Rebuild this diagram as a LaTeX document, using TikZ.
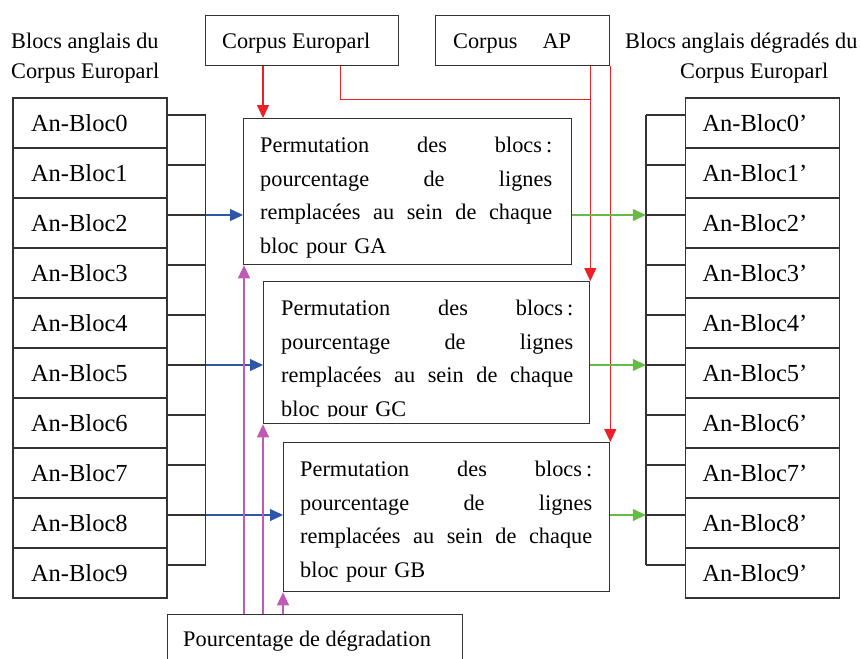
\documentclass[tikz,border=0pt]{standalone}
\usepackage{fontspec}
\setmainfont{Liberation Serif}
\usetikzlibrary{arrows.meta,calc}

\definecolor{linegray}{HTML}{333333}
\definecolor{flowred}{HTML}{EE2026}
\definecolor{flowblue}{HTML}{2E56A6}
\definecolor{flowgreen}{HTML}{66BB44}
\definecolor{flowmag}{HTML}{C05AB4}

\tikzset{
  txt/.style={font=\fontsize{22.3}{33.5}\selectfont},
  blk/.style={draw=linegray, line width=1.3pt, minimum width=154pt, minimum height=50pt,
    inner ysep=0pt, inner xsep=0pt, text width=154pt, align=left,
    font=\fontsize{24.5}{28}\selectfont},
  pbox/.style={draw=linegray, line width=1.3pt, inner sep=0pt, anchor=north west},
  ptext/.style={txt, inner sep=0pt, anchor=north west, text width=292pt, align=left},
  wire/.style={draw=linegray, line width=1.3pt},
  tip/.style={-{Triangle[length=13pt,width=12pt]}},
  bluearr/.style={tip, draw=flowblue, fill=flowblue, line width=1.2pt},
  greenarr/.style={tip, draw=flowgreen, fill=flowgreen, line width=1.2pt},
  magarr/.style={tip, draw=flowmag, fill=flowmag, line width=1.3pt},
  redarr/.style={tip, draw=flowred, fill=flowred, line width=1.3pt},
  redline/.style={draw=flowred, line width=1pt},
}

% a justified line of the box text: words spread over the full width
\newcommand{\jline}[1]{\makebox[292pt][l]{#1}}
\newcommand{\wgap}{\hspace{0pt plus 1fill}}

\begin{document}
\begin{tikzpicture}[x=1pt,y=-1pt]
\useasboundingbox (0,0) rectangle (860,659);
\clip (0,0) rectangle (860,659);

% column titles
\node[txt, anchor=west, inner sep=0pt] (tl1) at (11,43) {Blocs anglais du};
\node[txt, anchor=west, inner sep=0pt] (tl2) at (11,73) {Corpus Europarl};
\node[txt, anchor=west, inner sep=0pt] (tr1) at (625,43) {Blocs anglais dégradés du};
\node[txt, anchor=west, inner sep=0pt] (tr2) at (680,73) {Corpus Europarl};

% source corpora
\node[pbox, minimum width=193pt, minimum height=50pt] (E) at (205,15) {};
\node[txt, anchor=west, inner sep=0pt] (Et) at (222,43) {Corpus Europarl};
\node[pbox, minimum width=174pt, minimum height=50pt] (AP) at (435,15) {};
\node[txt, anchor=west, inner sep=0pt] (APt) at (453,43) {Corpus\hspace{25pt}AP};

% English blocks (left) and degraded blocks (right)
\foreach \i in {0,...,9}{
  \node[blk] (L\i) at (90,123+50*\i) {\hspace*{18pt}An-Bloc\i};
  \node[blk] (R\i) at (762.5,123+50*\i) {\hspace*{17pt}An-Bloc\i’};
  \coordinate (ls\i) at ($(L\i.east)+(38,-8)$);
  \coordinate (rs\i) at ($(R\i.west)+(-39,-8)$);
  \draw[wire] ($(L\i.east)+(0,-8)$) -- (ls\i);
  \draw[wire] ($(R\i.west)+(0,-8)$) -- (rs\i);
}
\draw[wire] (ls0) -- (ls9);
\draw[wire] (rs0) -- (rs9);

% permutation boxes
\node[pbox, minimum width=328pt, minimum height=146pt] (B1) at (243,118) {};
\node[ptext] (B1t) at (260,137) {\jline{Permutation\wgap des\wgap blocs\kern4pt:}\\
  \jline{pourcentage\wgap de\wgap lignes}\\ \jline{remplacées\wgap au\wgap sein\wgap de\wgap chaque}\\ bloc pour GA};

\node[pbox, minimum width=326pt, minimum height=142pt] (B2) at (263,281) {};
\begin{scope}
  \clip (263,281) rectangle (589,416);
  \node[ptext] (B2t) at (281,300) {\jline{Permutation\wgap des\wgap blocs\kern4pt:}\\
    \jline{pourcentage\wgap de\wgap lignes}\\ \jline{remplacées\wgap au\wgap sein\wgap de\wgap chaque}\\ bloc pour GC};
\end{scope}

\node[pbox, minimum width=326pt, minimum height=149pt] (B3) at (283,442) {};
\node[ptext] (B3t) at (300,461) {\jline{Permutation\wgap des\wgap blocs\kern4pt:}\\
  \jline{pourcentage\wgap de\wgap lignes}\\ \jline{remplacées\wgap au\wgap sein\wgap de\wgap chaque}\\ bloc pour GB};

% degradation rate
\node[pbox, minimum width=295pt, minimum height=60pt] (P) at (167,614) {};
\node[txt, anchor=west, inner sep=0pt] (Pt) at (183,641) {Pourcentage de dégradation};

% corpus feeds
\coordinate (e1) at ($(E.south west)+(58,0)$);
\coordinate (e2) at ($(E.south west)+(135,0)$);
\coordinate (a1) at (B2.north east |- AP.south);
\draw[redarr] (e1) -- (e1 |- B1.north);
\draw[redline] (e2) -- ++(0,33) coordinate (ej) -- (ej -| a1);
\draw[redline, tip, fill=flowred] (a1) -- (B2.north east);
\draw[redarr] (AP.south east) -- (B3.north east);

% blocks into permutation boxes
\draw[bluearr] (ls2) -- (ls2 -| B1.west);
\draw[bluearr] (ls5) -- (ls5 -| B2.west);
\draw[bluearr] (ls8) -- (ls8 -| B3.west);

% permutation boxes out to degraded blocks
\draw[greenarr] (B1.east |- rs2) -- (rs2);
\draw[greenarr] (B2.east |- rs5) -- (rs5);
\draw[greenarr] (B3.east |- rs8) -- (rs8);

% degradation rate into each box
\coordinate (m1) at ($(B1.south west)+(1,0)$);
\draw[magarr] (m1 |- P.north) -- (m1);
\draw[magarr] (B2.south west |- P.north) -- (B2.south west);
\draw[magarr] (B3.south west |- P.north) -- (B3.south west);
\end{tikzpicture}
\end{document}
